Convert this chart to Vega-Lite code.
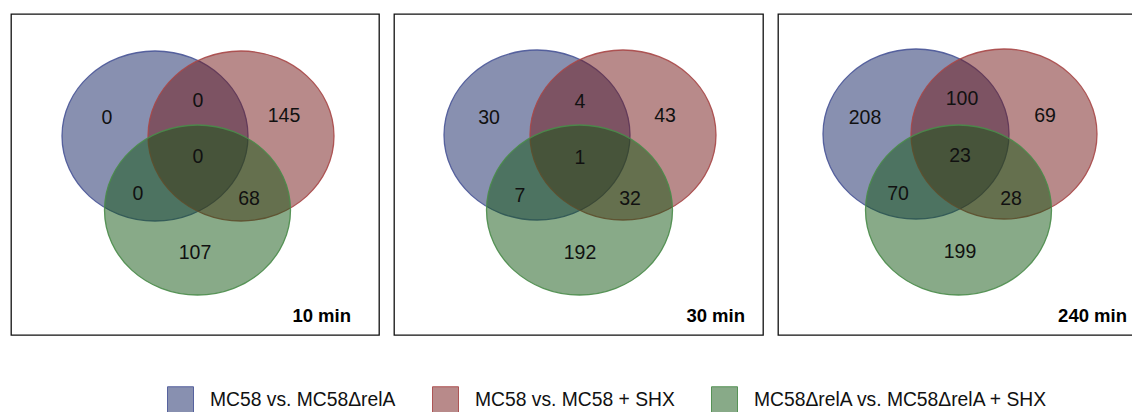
{
  "$schema": "https://vega.github.io/schema/vega-lite/v6.json",
  "padding": {"left": 10, "top": 13, "right": 0, "bottom": 0},
  "background": "white",
  "config": {
    "view": {"stroke": "#111111", "strokeWidth": 1.3},
    "font": "Liberation Sans",
    "concat": {"spacing": 13},
    "legend": {
      "orient": "none",
      "legendX": 156,
      "legendY": 372,
      "direction": "horizontal",
      "symbolType": "square",
      "symbolSize": 676,
      "symbolStrokeWidth": 1,
      "labelFont": "Liberation Sans",
      "labelFontSize": 19.3,
      "labelColor": "#111111",
      "labelOffset": 16,
      "columnPadding": 34,
      "labelLimit": 400
    }
  },
  "datasets": {
    "circles": [
      {"panel": 1, "set": "MC58 vs. MC58ΔrelA", "cx": 144, "cy": 122},
      {"panel": 1, "set": "MC58 vs. MC58 + SHX", "cx": 230, "cy": 122},
      {"panel": 1, "set": "MC58ΔrelA vs. MC58ΔrelA + SHX", "cx": 186.5, "cy": 196},
      {"panel": 2, "set": "MC58 vs. MC58ΔrelA", "cx": 143, "cy": 121},
      {"panel": 2, "set": "MC58 vs. MC58 + SHX", "cx": 229, "cy": 121},
      {"panel": 2, "set": "MC58ΔrelA vs. MC58ΔrelA + SHX", "cx": 185.5, "cy": 196},
      {"panel": 3, "set": "MC58 vs. MC58ΔrelA", "cx": 138, "cy": 120},
      {"panel": 3, "set": "MC58 vs. MC58 + SHX", "cx": 226, "cy": 120},
      {"panel": 3, "set": "MC58ΔrelA vs. MC58ΔrelA + SHX", "cx": 180.5, "cy": 196}
    ],
    "counts": [
      {"panel": 1, "n": 0, "lx": 96, "ly": 104},
      {"panel": 1, "n": 0, "lx": 187, "ly": 87},
      {"panel": 1, "n": 145, "lx": 273, "ly": 102},
      {"panel": 1, "n": 0, "lx": 187, "ly": 143},
      {"panel": 1, "n": 0, "lx": 127, "ly": 180},
      {"panel": 1, "n": 68, "lx": 238, "ly": 185},
      {"panel": 1, "n": 107, "lx": 184, "ly": 239},
      {"panel": 2, "n": 30, "lx": 95, "ly": 104},
      {"panel": 2, "n": 4, "lx": 186, "ly": 88},
      {"panel": 2, "n": 43, "lx": 271, "ly": 102},
      {"panel": 2, "n": 1, "lx": 186, "ly": 144},
      {"panel": 2, "n": 7, "lx": 126, "ly": 182},
      {"panel": 2, "n": 32, "lx": 236, "ly": 185},
      {"panel": 2, "n": 192, "lx": 186, "ly": 239},
      {"panel": 3, "n": 208, "lx": 87, "ly": 104},
      {"panel": 3, "n": 100, "lx": 184, "ly": 85},
      {"panel": 3, "n": 69, "lx": 267, "ly": 102},
      {"panel": 3, "n": 23, "lx": 182, "ly": 142},
      {"panel": 3, "n": 70, "lx": 120, "ly": 180},
      {"panel": 3, "n": 28, "lx": 233, "ly": 185},
      {"panel": 3, "n": 199, "lx": 182, "ly": 238}
    ],
    "times": [
      {"panel": 1, "label": "10 min", "lx": 340, "ly": 308},
      {"panel": 2, "label": "30 min", "lx": 351, "ly": 308},
      {"panel": 3, "label": "240 min", "lx": 349, "ly": 308}
    ]
  },
  "hconcat": [
    {
      "width": 368, "height": 321,
      "layer": [
        {
          "data": {"name": "circles"},
          "transform": [{"filter": "datum.panel == 1"}],
          "mark": {"type": "point", "shape": "M 1 0 C 1 0.5048 0.5523 0.914 0 0.914 C -0.5523 0.914 -1 0.5048 -1 0 C -1 -0.5048 -0.5523 -0.914 0 -0.914 C 0.5523 -0.914 1 -0.5048 1 0 Z", "filled": true, "size": 34596, "fillOpacity": 0.5, "strokeOpacity": 0.9, "strokeWidth": 1.3},
          "encoding": {
            "x": {"field": "cx", "type": "quantitative", "scale": {"domain": [0, 368], "nice": false, "zero": false}, "axis": null},
            "y": {"field": "cy", "type": "quantitative", "scale": {"domain": [0, 321], "nice": false, "zero": false, "reverse": true}, "axis": null},
            "fill": {"field": "set", "type": "nominal", "title": null, "scale": {"domain": ["MC58 vs. MC58ΔrelA", "MC58 vs. MC58 + SHX", "MC58ΔrelA vs. MC58ΔrelA + SHX"], "range": ["#112161", "#711515", "#115511"]}, "legend": {"encode": {"symbols": {"update": {"fillOpacity": {"value": 0.5}, "strokeOpacity": {"value": 0.9}}}}}},
            "stroke": {"field": "set", "type": "nominal", "title": null, "scale": {"domain": ["MC58 vs. MC58ΔrelA", "MC58 vs. MC58 + SHX", "MC58ΔrelA vs. MC58ΔrelA + SHX"], "range": ["#4a5698", "#a84848", "#4a8c4a"]}}
          }
        },
        {
          "data": {"name": "counts"},
          "transform": [{"filter": "datum.panel == 1"}],
          "mark": {"type": "text", "fontSize": 19.5, "color": "#111111", "baseline": "middle", "align": "center"},
          "encoding": {
            "x": {"field": "lx", "type": "quantitative"},
            "y": {"field": "ly", "type": "quantitative"},
            "text": {"field": "n", "type": "quantitative"}
          }
        },
        {
          "data": {"name": "times"},
          "transform": [{"filter": "datum.panel == 1"}],
          "mark": {"type": "text", "fontSize": 18.5, "fontWeight": "bold", "color": "#000000", "baseline": "alphabetic", "align": "right"},
          "encoding": {
            "x": {"field": "lx", "type": "quantitative"},
            "y": {"field": "ly", "type": "quantitative"},
            "text": {"field": "label", "type": "nominal"}
          }
        }
      ]
    },
    {
      "width": 369, "height": 321,
      "layer": [
        {
          "data": {"name": "circles"},
          "transform": [{"filter": "datum.panel == 2"}],
          "mark": {"type": "point", "shape": "M 1 0 C 1 0.5048 0.5523 0.914 0 0.914 C -0.5523 0.914 -1 0.5048 -1 0 C -1 -0.5048 -0.5523 -0.914 0 -0.914 C 0.5523 -0.914 1 -0.5048 1 0 Z", "filled": true, "size": 34596, "fillOpacity": 0.5, "strokeOpacity": 0.9, "strokeWidth": 1.3},
          "encoding": {
            "x": {"field": "cx", "type": "quantitative", "scale": {"domain": [0, 369], "nice": false, "zero": false}, "axis": null},
            "y": {"field": "cy", "type": "quantitative", "scale": {"domain": [0, 321], "nice": false, "zero": false, "reverse": true}, "axis": null},
            "fill": {"field": "set", "type": "nominal", "title": null, "scale": {"domain": ["MC58 vs. MC58ΔrelA", "MC58 vs. MC58 + SHX", "MC58ΔrelA vs. MC58ΔrelA + SHX"], "range": ["#112161", "#711515", "#115511"]}, "legend": {"encode": {"symbols": {"update": {"fillOpacity": {"value": 0.5}, "strokeOpacity": {"value": 0.9}}}}}},
            "stroke": {"field": "set", "type": "nominal", "title": null, "scale": {"domain": ["MC58 vs. MC58ΔrelA", "MC58 vs. MC58 + SHX", "MC58ΔrelA vs. MC58ΔrelA + SHX"], "range": ["#4a5698", "#a84848", "#4a8c4a"]}}
          }
        },
        {
          "data": {"name": "counts"},
          "transform": [{"filter": "datum.panel == 2"}],
          "mark": {"type": "text", "fontSize": 19.5, "color": "#111111", "baseline": "middle", "align": "center"},
          "encoding": {
            "x": {"field": "lx", "type": "quantitative"},
            "y": {"field": "ly", "type": "quantitative"},
            "text": {"field": "n", "type": "quantitative"}
          }
        },
        {
          "data": {"name": "times"},
          "transform": [{"filter": "datum.panel == 2"}],
          "mark": {"type": "text", "fontSize": 18.5, "fontWeight": "bold", "color": "#000000", "baseline": "alphabetic", "align": "right"},
          "encoding": {
            "x": {"field": "lx", "type": "quantitative"},
            "y": {"field": "ly", "type": "quantitative"},
            "text": {"field": "label", "type": "nominal"}
          }
        }
      ]
    },
    {
      "width": 357, "height": 321,
      "layer": [
        {
          "data": {"name": "circles"},
          "transform": [{"filter": "datum.panel == 3"}],
          "mark": {"type": "point", "shape": "M 1 0 C 1 0.5048 0.5523 0.914 0 0.914 C -0.5523 0.914 -1 0.5048 -1 0 C -1 -0.5048 -0.5523 -0.914 0 -0.914 C 0.5523 -0.914 1 -0.5048 1 0 Z", "filled": true, "size": 34596, "fillOpacity": 0.5, "strokeOpacity": 0.9, "strokeWidth": 1.3},
          "encoding": {
            "x": {"field": "cx", "type": "quantitative", "scale": {"domain": [0, 357], "nice": false, "zero": false}, "axis": null},
            "y": {"field": "cy", "type": "quantitative", "scale": {"domain": [0, 321], "nice": false, "zero": false, "reverse": true}, "axis": null},
            "fill": {"field": "set", "type": "nominal", "title": null, "scale": {"domain": ["MC58 vs. MC58ΔrelA", "MC58 vs. MC58 + SHX", "MC58ΔrelA vs. MC58ΔrelA + SHX"], "range": ["#112161", "#711515", "#115511"]}, "legend": {"encode": {"symbols": {"update": {"fillOpacity": {"value": 0.5}, "strokeOpacity": {"value": 0.9}}}}}},
            "stroke": {"field": "set", "type": "nominal", "title": null, "scale": {"domain": ["MC58 vs. MC58ΔrelA", "MC58 vs. MC58 + SHX", "MC58ΔrelA vs. MC58ΔrelA + SHX"], "range": ["#4a5698", "#a84848", "#4a8c4a"]}}
          }
        },
        {
          "data": {"name": "counts"},
          "transform": [{"filter": "datum.panel == 3"}],
          "mark": {"type": "text", "fontSize": 19.5, "color": "#111111", "baseline": "middle", "align": "center"},
          "encoding": {
            "x": {"field": "lx", "type": "quantitative"},
            "y": {"field": "ly", "type": "quantitative"},
            "text": {"field": "n", "type": "quantitative"}
          }
        },
        {
          "data": {"name": "times"},
          "transform": [{"filter": "datum.panel == 3"}],
          "mark": {"type": "text", "fontSize": 18.5, "fontWeight": "bold", "color": "#000000", "baseline": "alphabetic", "align": "right"},
          "encoding": {
            "x": {"field": "lx", "type": "quantitative"},
            "y": {"field": "ly", "type": "quantitative"},
            "text": {"field": "label", "type": "nominal"}
          }
        }
      ]
    }
  ],
  "resolve": {
    "scale": {"fill": "shared", "stroke": "shared"},
    "legend": {"fill": "shared", "stroke": "shared"}
  }
}
